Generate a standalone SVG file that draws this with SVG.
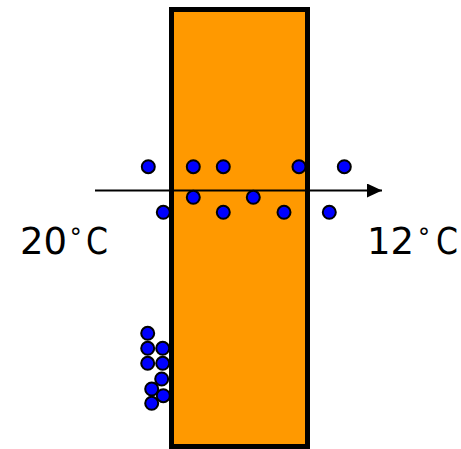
<svg xmlns="http://www.w3.org/2000/svg" width="461" height="449" viewBox="0 0 461 449">
<defs>
<style>
.dot{fill:#0000ff;stroke:#000;stroke-width:2}
.lbl{font-family:"DejaVu Sans",sans-serif;font-size:37px;fill:#000}
.deg{font-family:"DejaVu Sans",sans-serif;font-size:24px;fill:#000}
</style>
<marker id="ah" markerWidth="16" markerHeight="16" refX="15" refY="7" orient="auto" markerUnits="userSpaceOnUse">
<path d="M0,0 L15,7 L0,14 Z" fill="#000"/>
</marker>
</defs>
<rect width="461" height="449" fill="#fff"/>
<g id="wall"><rect x="171.5" y="9.5" width="136" height="437" fill="#ff9900" stroke="#000" stroke-width="5"/></g>
<g id="connectors"><line x1="95" y1="190.5" x2="382" y2="190.5" stroke="#000" stroke-width="2" marker-end="url(#ah)"/></g>
<g id="dots">
<circle class="dot" cx="148.3" cy="166.7" r="6.5"/>
<circle class="dot" cx="193.3" cy="166.7" r="6.5"/>
<circle class="dot" cx="223.3" cy="166.7" r="6.5"/>
<circle class="dot" cx="299" cy="166.7" r="6.5"/>
<circle class="dot" cx="344.3" cy="166.7" r="6.5"/>
<circle class="dot" cx="193.3" cy="197.3" r="6.5"/>
<circle class="dot" cx="253.3" cy="197.3" r="6.5"/>
<circle class="dot" cx="163.3" cy="212.3" r="6.5"/>
<circle class="dot" cx="223.3" cy="212.3" r="6.5"/>
<circle class="dot" cx="284" cy="212.3" r="6.5"/>
<circle class="dot" cx="329.3" cy="212.3" r="6.5"/>
</g>
<g id="cluster">
<circle class="dot" cx="147.7" cy="333.3" r="6.5"/>
<circle class="dot" cx="147.7" cy="348.3" r="6.5"/>
<circle class="dot" cx="162.7" cy="348.3" r="6.5"/>
<circle class="dot" cx="147.7" cy="363.3" r="6.5"/>
<circle class="dot" cx="162.7" cy="363.3" r="6.5"/>
<circle class="dot" cx="161.7" cy="379" r="6.5"/>
<circle class="dot" cx="151.7" cy="389" r="6.5"/>
<circle class="dot" cx="163.3" cy="395.7" r="6.5"/>
<circle class="dot" cx="151.7" cy="403.3" r="6.5"/>
</g>
<g id="label-left">
<text class="lbl" y="253.5"><tspan x="20">20</tspan><tspan class="deg" x="69.7" y="246">°</tspan><tspan x="86" y="253.5" textLength="22" lengthAdjust="spacingAndGlyphs">C</tspan></text>
</g>
<g id="label-right">
<text class="lbl" y="253.5"><tspan x="367">12</tspan><tspan class="deg" x="418" y="246">°</tspan><tspan x="436" y="253.5" textLength="22" lengthAdjust="spacingAndGlyphs">C</tspan></text>
</g>
</svg>
